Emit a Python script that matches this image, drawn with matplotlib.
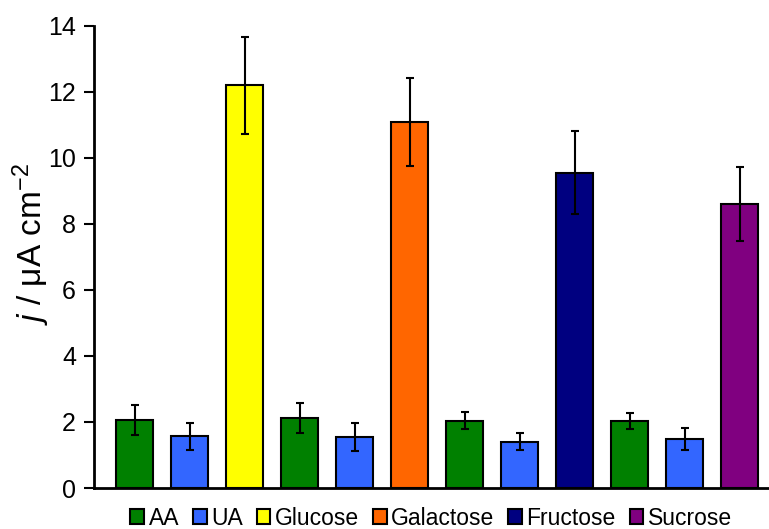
import matplotlib
matplotlib.use('Agg')
import matplotlib.pyplot as plt
from matplotlib.patches import Patch

plt.rcParams['font.family'] = ['Liberation Sans', 'DejaVu Sans']
plt.rcParams['mathtext.fontset'] = 'custom'
plt.rcParams['mathtext.rm'] = 'Liberation Sans'
plt.rcParams['mathtext.it'] = 'Liberation Sans:italic'

# current density per analyte, four runs of AA / UA / sugar
analytes = ['AA', 'UA', 'Glucose', 'AA', 'UA', 'Galactose',
            'AA', 'UA', 'Fructose', 'AA', 'UA', 'Sucrose']
current = [2.07, 1.57, 12.20, 2.12, 1.54, 11.09,
           2.04, 1.40, 9.56, 2.02, 1.48, 8.60]
errors = [0.45, 0.41, 1.46, 0.46, 0.43, 1.33,
          0.25, 0.26, 1.27, 0.24, 0.33, 1.12]

colours = {'AA': '#008000', 'UA': '#3366FF', 'Glucose': '#FFFF00',
           'Galactose': '#FF6600', 'Fructose': '#000080', 'Sucrose': '#800080'}
legend_order = ['AA', 'UA', 'Glucose', 'Galactose', 'Fructose', 'Sucrose']

fig = plt.figure(figsize=(7.69, 5.29), dpi=100)
ax = fig.add_axes([0.1222, 0.0775, 0.877, 0.8734])

x = range(len(current))
ax.bar(x, current, width=0.67, color=[colours[a] for a in analytes],
       edgecolor='black', linewidth=1.5,
       yerr=errors, error_kw=dict(ecolor='black', elinewidth=1.5,
                                  capsize=3, capthick=1.5))

ax.set_xlim(-0.74, 11.52)
ax.set_ylim(0, 14)
ax.set_yticks(range(0, 15, 2))
ax.set_xticks([])
ax.tick_params(axis='y', labelsize=18, length=7, width=1.5, direction='out', pad=6)
for s in ['top', 'right']:
    ax.spines[s].set_visible(False)
for s in ['left', 'bottom']:
    ax.spines[s].set_linewidth(2)

ax.set_ylabel(r'$\it{j}$ / μA cm$^{-2}$', fontsize=24)
ax.yaxis.set_label_coords(-0.062, 0.528)

handles = [Patch(facecolor=colours[a], edgecolor='black', linewidth=1.5)
           for a in legend_order]
ax.legend(handles, legend_order, loc='upper center', bbox_to_anchor=(0.5, -0.016),
          ncol=6, frameon=False, fontsize=16.5, handlelength=0.6,
          handleheight=0.6, handletextpad=0.2, columnspacing=0.6,
          borderpad=0.0)

fig.savefig('out.png', dpi=100)
